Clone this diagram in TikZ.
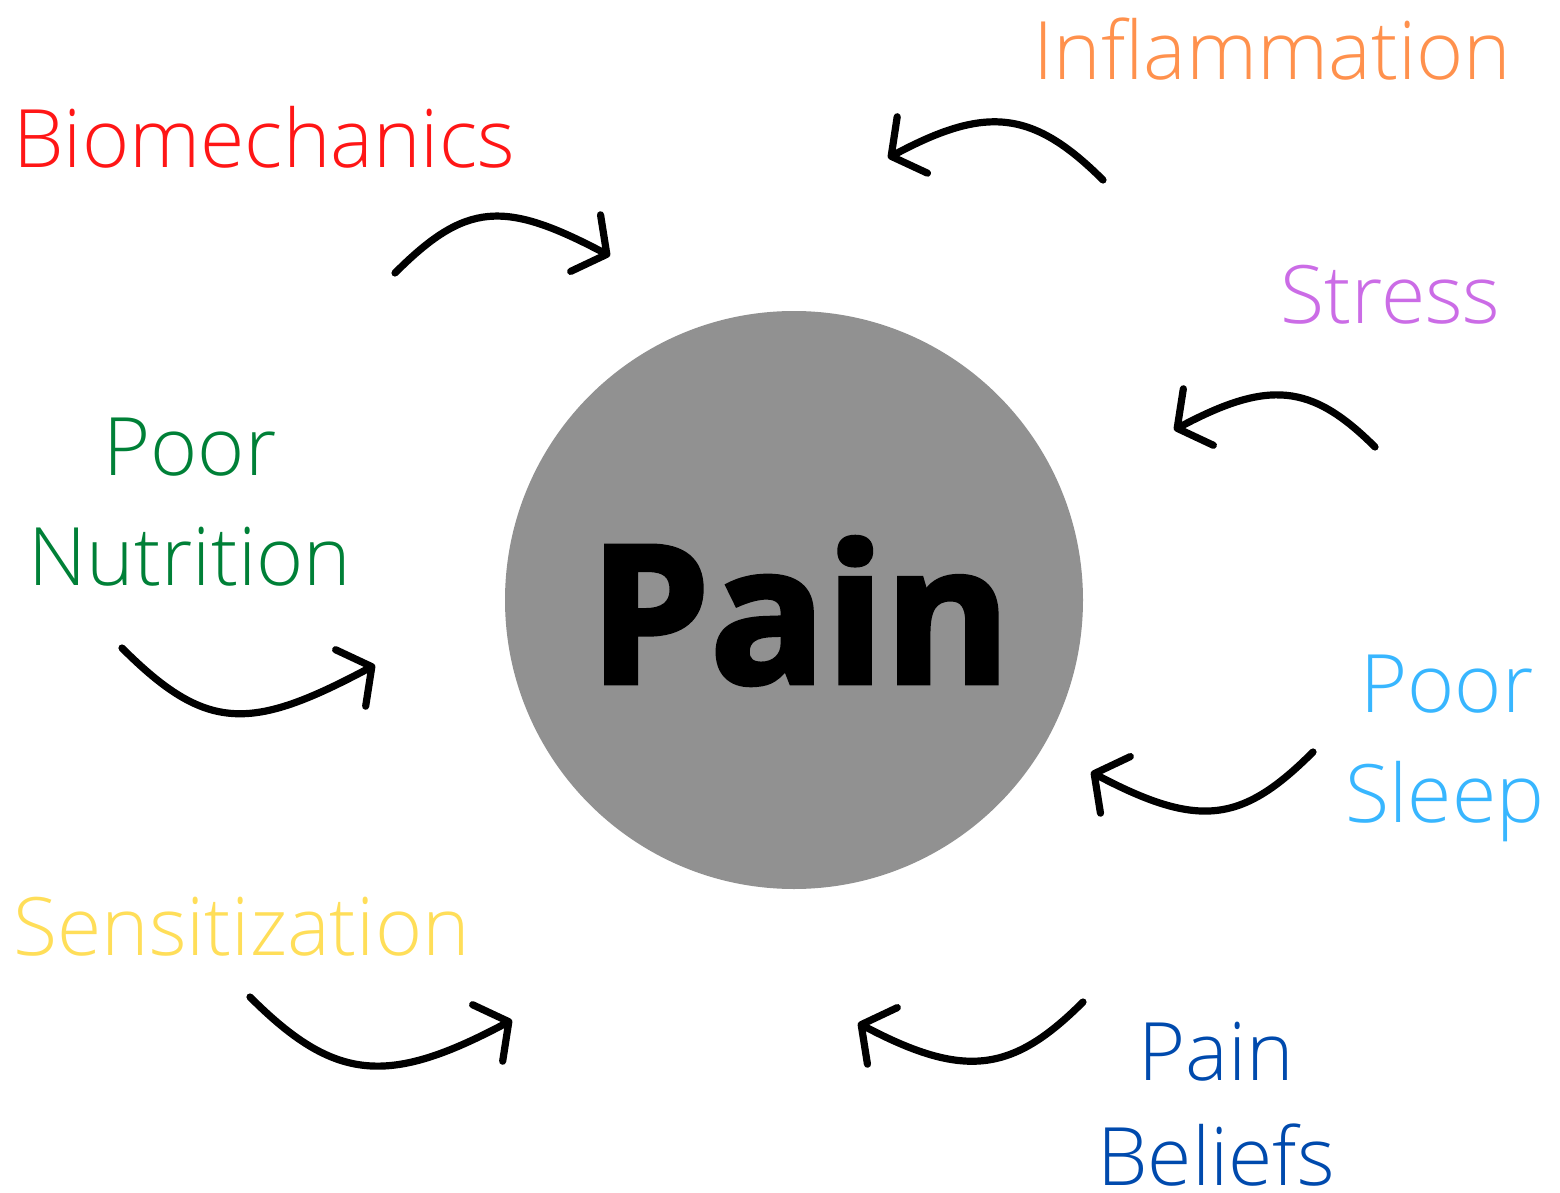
\documentclass[tikz,border=0pt]{standalone}
\usepackage{fontspec}
\setmainfont{Open Sans}
\newfontfamily\lightf{Open Sans Light}
\newfontfamily\heavyf{Open Sans}[BoldFeatures={FakeBold=2.5}]
\usetikzlibrary{arrows.meta}
\definecolor{cRed}{RGB}{255,22,22}
\definecolor{cOrange}{RGB}{255,145,77}
\definecolor{cViolet}{RGB}{203,108,230}
\definecolor{cGreen}{RGB}{0,128,55}
\definecolor{cSky}{RGB}{56,182,255}
\definecolor{cYellow}{RGB}{255,222,89}
\definecolor{cBlue}{RGB}{0,74,173}
\definecolor{cGray}{RGB}{145,145,145}
\begin{document}
\begin{tikzpicture}[x=0.5pt,y=-0.5pt]
\tikzset{
  lbl/.style={font=\lightf\fontsize{40.3}{55}\selectfont, inner sep=0pt, anchor=base west},
  lblc/.style={font=\lightf\fontsize{40.3}{55}\selectfont, inner sep=0pt, anchor=base},
  arr/.style={line width=3.6pt, line cap=round, line join=round, -{Straight Barb[length=12pt,width=32pt,round]}}
}
\useasboundingbox (0,0) rectangle (1560,1193);
\node[circle, fill=cGray, minimum size=289pt, inner sep=0pt] (core) at (794,600) {};
\node[font=\heavyf\bfseries\fontsize{96}{110}\selectfont, inner sep=0pt, anchor=base] (pain) at (800,683) {Pain};

\node[lbl, text=cRed] (bio) at (13,168) {Biomechanics};
\node[lbl, text=cOrange] (infl) at (1033,80) {Inflammation};
\node[lbl, text=cViolet] (stress) at (1280,323) {Stress};
\node[lblc, text=cGreen] (nutrA) at (190,475) {Poor};
\node[lblc, text=cGreen] (nutrB) at (190,585) {Nutrition};
\node[lblc, text=cSky] (sleepA) at (1447,712) {Poor};
\node[lblc, text=cSky] (sleepB) at (1445,822) {Sleep};
\node[lbl, text=cYellow] (sens) at (13,955) {Sensitization};
\node[lblc, text=cBlue] (belA) at (1216,1080) {Pain};
\node[lblc, text=cBlue] (belB) at (1216,1185) {Beliefs};

\coordinate (a1s) at (395,273); \coordinate (a1e) at (610,256);
\coordinate (a2s) at (1103,180); \coordinate (a2e) at (888,158);
\coordinate (a3s) at (1375,447); \coordinate (a3e) at (1174,430);
\coordinate (a4s) at (122,648); \coordinate (a4e) at (375,665);
\coordinate (a5s) at (1313,752); \coordinate (a5e) at (1091,772);
\coordinate (a6s) at (250,997); \coordinate (a6e) at (512,1020);
\coordinate (a7s) at (1083,1002); \coordinate (a7e) at (858,1023);

\draw[arr] (a1s) .. controls (466,202) and (504,200) .. (a1e);
\draw[arr] (a2s) .. controls (1032,109) and (985,106) .. (a2e);
\draw[arr] (a3s) .. controls (1311,383) and (1268,380) .. (a3e);
\draw[arr] (a4s) .. controls (207,733) and (251,731) .. (a4e);
\draw[arr] (a5s) .. controls (1242,823) and (1199,829) .. (a5e);
\draw[arr] (a6s) .. controls (335,1082) and (388,1086) .. (a6e);
\draw[arr] (a7s) .. controls (1012,1073) and (964,1079) .. (a7e);
\end{tikzpicture}
\end{document}
